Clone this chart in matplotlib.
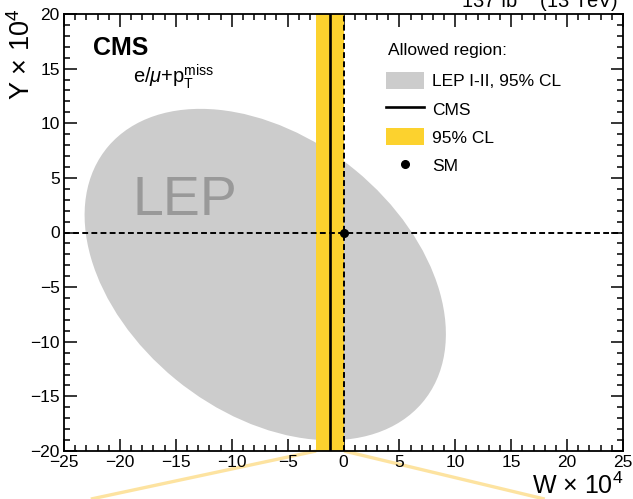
import matplotlib
matplotlib.use("Agg")
import matplotlib.pyplot as plt
from matplotlib.patches import Ellipse, Patch
from matplotlib.lines import Line2D
from matplotlib.ticker import MultipleLocator

plt.rcParams['font.family'] = ['Liberation Sans', 'DejaVu Sans']
plt.rcParams['mathtext.fontset'] = 'custom'
plt.rcParams['mathtext.rm'] = 'Liberation Sans'
plt.rcParams['mathtext.it'] = 'Liberation Sans:italic'
plt.rcParams['mathtext.bf'] = 'Liberation Sans:bold'

# Oblique parameters W and Y, in units of 10^-4
lep_center = (-7.0, -3.85)      # LEP I-II 95% CL ellipse
lep_width = 36.6
lep_height = 25.0
lep_angle = -40.0

cms_best_w = -1.2               # CMS best fit in W
cms_band_w = (-2.45, 0.05)      # CMS 95% CL interval in W
sm_point = (0.0, 0.0)           # Standard Model expectation

x_range = (-25, 25)
y_range = (-20, 20)

# guide lines leading from the CMS band to the zoomed view below
guide_left_x = (cms_band_w[0], -22.6)
guide_right_x = (cms_band_w[1], 18.0)
guide_y = (-20.0, -24.4)

legend_labels = ['LEP I-II, 95% CL', 'CMS', '95% CL', 'SM']

gray = '#cccccc'
yellow = '#fcd22e'

fig = plt.figure(figsize=(6.33, 4.99), dpi=100)
ax = fig.add_axes([64 / 633, 1 - 451 / 499, 559 / 633, 437 / 499])

ax.add_patch(Ellipse(lep_center, lep_width, lep_height, angle=lep_angle,
                     facecolor=gray, edgecolor='none', zorder=1))
ax.text(-14.2, 2.9, 'LEP', fontsize=40, color='#999999',
        ha='center', va='center', zorder=1.5)

ax.axvspan(cms_band_w[0], cms_band_w[1], color=yellow, lw=0, zorder=2)
ax.axvline(cms_best_w, color='black', lw=1.9, zorder=3)

ax.axhline(sm_point[1], color='black', lw=1.4, dashes=(3, 1.7), zorder=4)
ax.axvline(sm_point[0], color='black', lw=1.4, dashes=(3, 1.7), zorder=4)
ax.plot([sm_point[0]], [sm_point[1]], 'o', color='black', ms=5.5, zorder=5)

for gx in (guide_left_x, guide_right_x):
    ax.plot(gx, guide_y, color='#fde3a0', lw=2.4, clip_on=False, zorder=0.5,
            solid_capstyle='butt')

ax.set_xlim(*x_range)
ax.set_ylim(*y_range)
ax.xaxis.set_major_locator(MultipleLocator(5))
ax.xaxis.set_minor_locator(MultipleLocator(1))
ax.yaxis.set_major_locator(MultipleLocator(5))
ax.yaxis.set_minor_locator(MultipleLocator(1))
ax.tick_params(which='both', direction='in', top=True, right=True,
               width=1.1, labelsize=12.5, pad=3)
ax.tick_params(which='major', length=9)
ax.tick_params(which='minor', length=4.5)
for s in ax.spines.values():
    s.set_linewidth(1.3)

ax.set_xlabel(r'W $\times$ 10$^{4}$', fontsize=18, loc='right', labelpad=2)
fig.text(22 / 633, 1 - 9 / 499, r'Y $\times$ 10$^{4}$', fontsize=19.5,
         rotation=90, ha='center', va='top')

ax.text(0.052, 0.923, 'CMS', transform=ax.transAxes, fontsize=18,
        fontweight='bold', ha='left', va='center')
ax.text(0.124, 0.857, r'e/$\mu$+p$_{\mathrm{T}}^{\mathrm{miss}}$',
        transform=ax.transAxes, fontsize=14.5, ha='left', va='center')

handles = [
    Patch(facecolor=gray, edgecolor='none'),
    Line2D([], [], color='black', lw=1.9),
    Patch(facecolor=yellow, edgecolor='none'),
    Line2D([], [], color='black', marker='o', ms=5.5, ls='none'),
]
ax.text(0.580, 0.916, 'Allowed region:', transform=ax.transAxes,
        fontsize=12.5, ha='left', va='center')
leg = ax.legend(handles, legend_labels, loc='upper left',
                bbox_to_anchor=(0.576, 0.867), frameon=False, fontsize=12.5,
                handlelength=2.2, handleheight=1.1,
                labelspacing=0.63, handletextpad=0.45, borderpad=0,
                borderaxespad=0)

fig.text(618 / 633, 1 - 8 / 499, r'137 fb$^{-1}$ (13 TeV)', fontsize=14.5,
         ha='right', va='baseline')

fig.savefig('out.png', dpi=100)
